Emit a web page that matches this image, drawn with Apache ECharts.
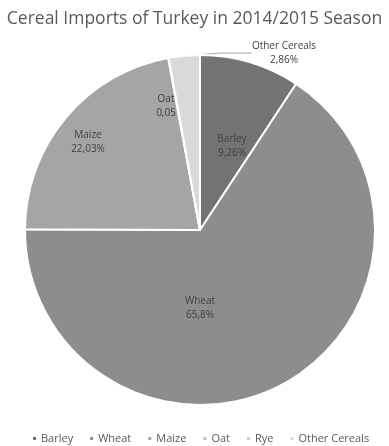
<!DOCTYPE html>
<html>
<head>
<meta charset="utf-8">
<script src="https://cdn.jsdelivr.net/npm/echarts@6/dist/echarts.min.js"></script>
<style>
  html, body { margin: 0; padding: 0; background: #ffffff; }
  #chart { width: 389px; height: 446px; }
</style>
</head>
<body>
<div id="chart"></div>
<script>
// Cereal import shares (%) for the 2014/2015 season
const categories = ['Barley', 'Wheat', 'Maize', 'Oat', 'Rye', 'Other Cereals'];
const shares = [9.26, 65.8, 22.03, 0.05, 0, 2.86];
const shareTexts = ['9,26%', '65,8%', '22,03%', '0,05', '', '2,86%'];
const sliceColors = ['#737373', '#8d8d8d', '#a5a5a5', '#bcbcbc', '#cbcbcb', '#d9d9d9'];

const FONT = '"Open Sans", "Liberation Sans", sans-serif';

// Label anchor points for each slice (label centre in px); Rye has no label
const labelSpots = [
  { x: 232, y: 146 },
  { x: 200, y: 308 },
  { x: 88,  y: 142 },
  { x: 166, y: 106 },
  null,
  { x: 284, y: 53 }
];

const chart = echarts.init(document.getElementById('chart'));

chart.setOption({
  animation: false,
  title: {
    text: 'Cereal Imports of Turkey in 2014/2015 Season',
    left: 'center',
    top: 5,
    textStyle: { fontFamily: FONT, fontSize: 17.5, fontWeight: 'normal', color: '#595959' }
  },
  legend: {
    top: 428,
    left: 26,
    itemWidth: 5,
    itemHeight: 5,
    itemGap: 15,
    icon: 'rect',
    textStyle: { fontFamily: FONT, fontSize: 11, color: '#595959', padding: [0, 0, 0, -1] },
    data: categories
  },
  series: [{
    type: 'pie',
    center: [200, 230],
    radius: [0, 175],
    startAngle: 90,
    clockwise: true,
    minAngle: 0,
    avoidLabelOverlap: false,
    stillShowZeroSum: true,
    itemStyle: { borderColor: '#ffffff', borderWidth: 2 },
    label: {
      show: true,
      position: 'inside',
      fontFamily: FONT,
      fontSize: 10,
      lineHeight: 14,
      color: '#404040',
      formatter: p => p.value > 0 ? p.name + '\n' + shareTexts[p.dataIndex] : ''
    },
    labelLine: { show: false },
    labelLayout: p => {
      const s = labelSpots[p.dataIndex];
      if (!s) return {};
      return { x: s.x, y: s.y, align: 'center', verticalAlign: 'middle' };
    },
    data: categories.map((name, i) => {
      const item = { name, value: shares[i], itemStyle: { color: sliceColors[i] } };
      if (name === 'Other Cereals') {
        item.label = { position: 'outside' };
        item.labelLine = { show: true, length: 4, length2: 30, lineStyle: { color: '#a6a6a6', width: 1 } };
      }
      if (name === 'Rye') {
        item.label = { show: false };
      }
      return item;
    })
  }]
});
</script>
</body>
</html>
